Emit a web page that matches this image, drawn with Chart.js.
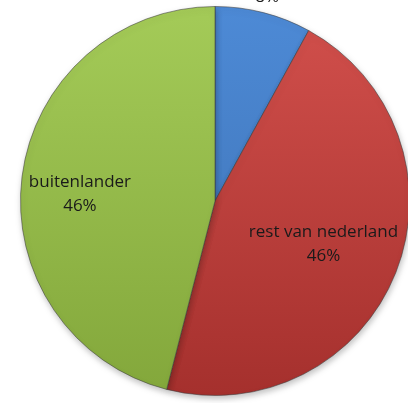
<!DOCTYPE html>
<html>
<head>
<meta charset="utf-8">
<script src="https://cdn.jsdelivr.net/npm/chart.js@4.4.1/dist/chart.umd.min.js"></script>
<style>
  html, body { margin: 0; padding: 0; background: #fff; overflow: hidden; }
  .chart__body { width: 434px; height: 403px; }
</style>
</head>
<body>
<div class="chart__body"><canvas id="myChart"></canvas></div>
<script>
// data
const labels = ["", "rest van nederland", "buitenlander"];
const values = [8, 46, 46];
const percentLabels = ["8%", "46%", "46%"];
// label placement (fraction of radius, extra y shift) and colour pairs (top, bottom)
const labelRadius = [1.08, 0.6, 0.7];
const labelShift = [0, 0, 10];
const topColors = ["#4d8ad6", "#d2504c", "#a4cb58"];
const bottomColors = ["#3c6fb0", "#a5302d", "#83a73b"];

function sliceFill(ctx) {
  const chart = ctx.chart;
  const area = chart.chartArea;
  if (!area) return topColors[ctx.dataIndex];
  const g = chart.ctx.createLinearGradient(0, area.top, 0, area.bottom);
  g.addColorStop(0, topColors[ctx.dataIndex]);
  g.addColorStop(1, bottomColors[ctx.dataIndex]);
  return g;
}

// shadow under the pie
const shadowPlugin = {
  id: "shadow",
  beforeDatasetsDraw(chart) {
    const c = chart.ctx;
    c.save();
    c.shadowColor = "rgba(0,0,0,0.25)";
    c.shadowBlur = 6;
    c.shadowOffsetX = 1;
    c.shadowOffsetY = 3;
  },
  afterDatasetsDraw(chart) {
    chart.ctx.restore();
  },
};

// labels inside / outside the slices
const labelPlugin = {
  id: "sliceLabels",
  afterDraw(chart) {
    const c = chart.ctx;
    const arcs = chart.getDatasetMeta(0).data;
    c.save();
    c.font = "17px 'Open Sans', sans-serif";
    c.fillStyle = "#1a1a1a";
    c.textAlign = "center";
    c.textBaseline = "middle";
    arcs.forEach((arc, i) => {
      const mid = (arc.startAngle + arc.endAngle) / 2;
      const r = arc.outerRadius * labelRadius[i];
      const x = arc.x + Math.cos(mid) * r;
      const y = arc.y + Math.sin(mid) * r + labelShift[i];
      if (labels[i]) {
        c.fillText(labels[i], x, y - 12);
        c.fillText(percentLabels[i], x, y + 12);
      } else {
        c.fillText(percentLabels[i], x, y);
      }
    });
    c.restore();
  },
};

const config = {
  type: "pie",
  data: {
    labels: labels,
    datasets: [
      {
        data: values,
        backgroundColor: sliceFill,
        borderColor: "rgba(60,60,60,0.55)",
        borderWidth: 1,
      },
    ],
  },
  options: {
    responsive: true,
    maintainAspectRatio: false,
    animation: false,
    layout: { padding: { top: 6, bottom: 7, left: 20, right: 24 } },
    plugins: {
      legend: { display: false },
      tooltip: { enabled: false },
    },
  },
  plugins: [shadowPlugin, labelPlugin],
};

const myChart = new Chart(document.getElementById("myChart"), config);
</script>
</body>
</html>
